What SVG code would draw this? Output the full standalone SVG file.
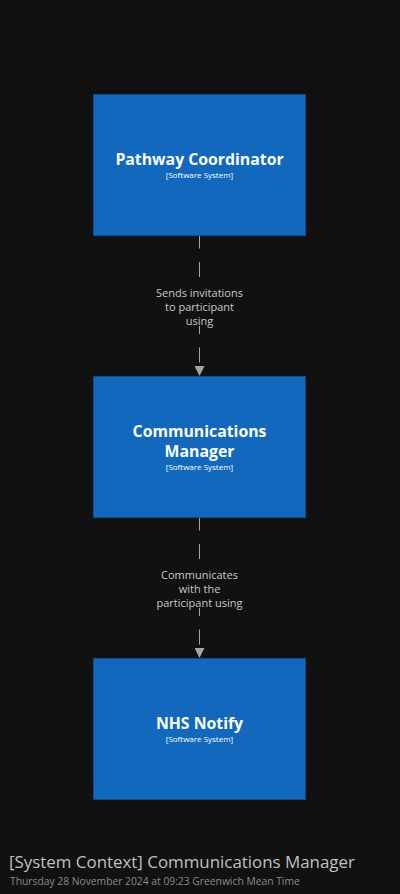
<svg xmlns="http://www.w3.org/2000/svg" width="400" height="894" viewBox="0 0 400 894">
<style>
.bg{fill:#111111}
.box{fill:#1168bd;stroke:#0b4d8c;stroke-width:1}
.name{font-family:"Open Sans","Liberation Sans",sans-serif;font-weight:bold;font-size:15.8px;fill:#ffffff;text-anchor:middle}
.meta{font-family:"Open Sans","Liberation Sans",sans-serif;font-size:8px;fill:#ffffff;text-anchor:middle}
.edge{stroke:#a5a5a5;stroke-width:1;fill:none;stroke-dasharray:15 13.5}
.lbl{font-family:"Open Sans","Liberation Sans",sans-serif;font-size:11px;fill:#c8c8c8;text-anchor:middle}
.lblbg{fill:#111111}
.title{font-family:"Open Sans","Liberation Sans",sans-serif;font-size:16.9px;fill:#c0c0c0}
.sub{font-family:"Open Sans","Liberation Sans",sans-serif;font-size:10.3px;fill:#8a8a8a}
</style>
<defs>
<marker id="arr" viewBox="0 0 10 10" refX="10" refY="5" markerWidth="10" markerHeight="10" markerUnits="userSpaceOnUse" orient="auto">
<path d="M0,0 L10,5 L0,10 z" fill="#a5a5a5"/>
</marker>
</defs>
<rect class="bg" x="0" y="0" width="400" height="894"/>
<g id="connectors">
<g id="edge1">
<line class="edge" x1="199.5" y1="233.5" x2="199.5" y2="376" marker-end="url(#arr)"/>
<rect class="lblbg" x="150" y="284" width="99" height="42"/>
<text class="lbl" x="199.5" y="296.5">Sends invitations</text>
<text class="lbl" x="199.5" y="310.5">to participant</text>
<text class="lbl" x="199.5" y="324.5">using</text>
</g>
<g id="edge2">
<line class="edge" x1="199.5" y1="515.5" x2="199.5" y2="658" marker-end="url(#arr)"/>
<rect class="lblbg" x="150" y="566" width="99" height="42"/>
<text class="lbl" x="199.5" y="578.5">Communicates</text>
<text class="lbl" x="199.5" y="592.5">with the</text>
<text class="lbl" x="199.5" y="606.5">participant using</text>
</g>
</g>
<g id="pathway-coordinator">
<rect class="box" x="93.5" y="94.5" width="212" height="141"/>
<text class="name" x="199.5" y="165">Pathway Coordinator</text>
<text class="meta" x="199.5" y="178">[Software System]</text>
</g>
<g id="communications-manager">
<rect class="box" x="93.5" y="376.5" width="212" height="141"/>
<text class="name" x="199.5" y="437">Communications</text>
<text class="name" x="199.5" y="457">Manager</text>
<text class="meta" x="199.5" y="470">[Software System]</text>
</g>
<g id="nhs-notify">
<rect class="box" x="93.5" y="658.5" width="212" height="141"/>
<text class="name" x="199.5" y="729">NHS Notify</text>
<text class="meta" x="199.5" y="742">[Software System]</text>
</g>
<g id="caption">
<text class="title" x="9" y="868">[System Context] Communications Manager</text>
<text class="sub" x="10" y="885">Thursday 28 November 2024 at 09:23 Greenwich Mean Time</text>
</g>
</svg>
